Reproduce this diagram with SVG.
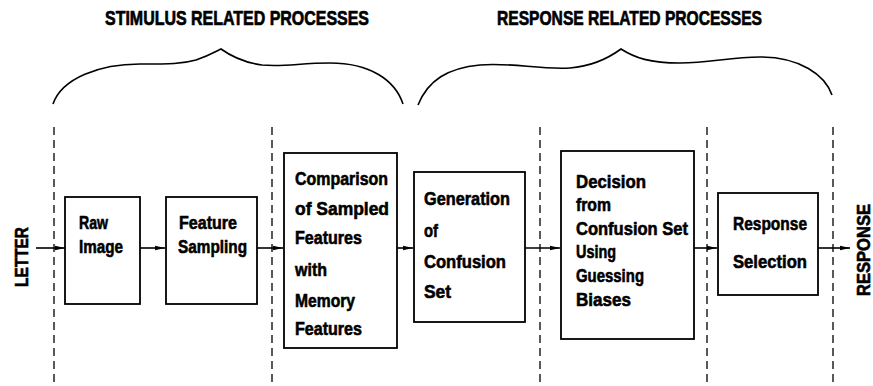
<svg xmlns="http://www.w3.org/2000/svg" width="873" height="386" viewBox="0 0 873 386">
<defs>
<style>
.bg{fill:#fff}
.box{fill:#fff;stroke:#000;stroke-width:1.8}
.div{fill:none;stroke:#000;stroke-width:1.3;stroke-dasharray:8 5}
.brace{fill:none;stroke:#000;stroke-width:1.6}
.conn{fill:none;stroke:#000;stroke-width:1.6}
.t{font-family:"Liberation Sans","DejaVu Sans",sans-serif;font-weight:bold;font-size:19px;fill:#000;stroke:#000;stroke-width:0.6}
.title{font-family:"Liberation Sans","DejaVu Sans",sans-serif;font-weight:bold;font-size:21px;fill:#000;stroke:#000;stroke-width:0.7}
</style>
<marker id="ah" viewBox="0 0 10 6" refX="10" refY="3" markerWidth="10" markerHeight="6" markerUnits="userSpaceOnUse" orient="auto">
<path d="M0,0.8 L10,3 L0,5.2 Z" fill="#000"/>
</marker>
</defs>
<rect class="bg" x="0" y="0" width="873" height="386"/>

<g id="titles">
<text class="title" x="105" y="25" textLength="264" lengthAdjust="spacingAndGlyphs">STIMULUS RELATED PROCESSES</text>
<text class="title" x="497" y="25" textLength="265" lengthAdjust="spacingAndGlyphs">RESPONSE RELATED PROCESSES</text>
</g>

<g id="braces">
<path class="brace" d="M53,104 C62,78 100,64 140,64 C170,64 182,64 196,60 C208,56 215,52 221,49 C228,54 240,62 262,65 C285,67 300,63 330,63 C370,63 395,80 403,104"/>
<path class="brace" d="M418,105 C428,80 448,68 480,65 C510,62 540,70 570,68 C595,66 610,57 621,49 C635,58 650,63 680,63 C710,63 730,57 760,57 C800,57 825,75 832,95"/>
</g>

<g id="dividers">
<line class="div" x1="54" y1="127" x2="54" y2="386"/>
<line class="div" x1="272" y1="127" x2="272" y2="386"/>
<line class="div" x1="540" y1="127" x2="540" y2="386"/>
<line class="div" x1="707" y1="127" x2="707" y2="386"/>
<line class="div" x1="833" y1="127" x2="833" y2="386"/>
</g>

<g id="letter">
<text class="t" transform="translate(28,287) rotate(-90)" textLength="60" lengthAdjust="spacingAndGlyphs">LETTER</text>
</g>

<g id="raw-image">
<rect class="box" x="65" y="197" width="75" height="107"/>
<text class="t" x="79" y="229" textLength="29" lengthAdjust="spacingAndGlyphs">Raw</text>
<text class="t" x="79" y="253" textLength="44" lengthAdjust="spacingAndGlyphs">Image</text>
</g>

<g id="feature-sampling">
<rect class="box" x="166" y="197" width="91" height="107"/>
<text class="t" x="179" y="229" textLength="58" lengthAdjust="spacingAndGlyphs">Feature</text>
<text class="t" x="178" y="253" textLength="69" lengthAdjust="spacingAndGlyphs">Sampling</text>
</g>

<g id="comparison">
<rect class="box" x="284" y="153" width="113" height="195"/>
<text class="t" x="295" y="185" textLength="93" lengthAdjust="spacingAndGlyphs">Comparison</text>
<text class="t" x="295" y="215" textLength="94" lengthAdjust="spacingAndGlyphs">of  Sampled</text>
<text class="t" x="295" y="244" textLength="67" lengthAdjust="spacingAndGlyphs">Features</text>
<text class="t" x="295" y="276" textLength="32" lengthAdjust="spacingAndGlyphs">with</text>
<text class="t" x="295" y="307" textLength="60" lengthAdjust="spacingAndGlyphs">Memory</text>
<text class="t" x="295" y="335" textLength="67" lengthAdjust="spacingAndGlyphs">Features</text>
</g>

<g id="generation">
<rect class="box" x="414" y="172" width="111" height="150"/>
<text class="t" x="424" y="205" textLength="86" lengthAdjust="spacingAndGlyphs">Generation</text>
<text class="t" x="424" y="237" textLength="14" lengthAdjust="spacingAndGlyphs">of</text>
<text class="t" x="424" y="268" textLength="82" lengthAdjust="spacingAndGlyphs">Confusion</text>
<text class="t" x="424" y="298" textLength="27" lengthAdjust="spacingAndGlyphs">Set</text>
</g>

<g id="decision">
<rect class="box" x="561" y="151" width="133" height="188"/>
<text class="t" x="576" y="188" textLength="70" lengthAdjust="spacingAndGlyphs">Decision</text>
<text class="t" x="576" y="211" textLength="35" lengthAdjust="spacingAndGlyphs">from</text>
<text class="t" x="576" y="235" textLength="112" lengthAdjust="spacingAndGlyphs">Confusion Set</text>
<text class="t" x="576" y="258" textLength="40" lengthAdjust="spacingAndGlyphs">Using</text>
<text class="t" x="576" y="282" textLength="68" lengthAdjust="spacingAndGlyphs">Guessing</text>
<text class="t" x="576" y="306" textLength="55" lengthAdjust="spacingAndGlyphs">Biases</text>
</g>

<g id="response-selection">
<rect class="box" x="718" y="193" width="100" height="102"/>
<text class="t" x="733" y="230" textLength="74" lengthAdjust="spacingAndGlyphs">Response</text>
<text class="t" x="733" y="268" textLength="74" lengthAdjust="spacingAndGlyphs">Selection</text>
</g>

<g id="response">
<text class="t" transform="translate(870,296) rotate(-90)" textLength="92" lengthAdjust="spacingAndGlyphs">RESPONSE</text>
</g>

<g id="connectors">
<line class="conn" x1="36" y1="248" x2="65" y2="248" marker-end="url(#ah)"/>
<line class="conn" x1="140" y1="248" x2="165" y2="248" marker-end="url(#ah)"/>
<line class="conn" x1="257" y1="248" x2="283" y2="248" marker-end="url(#ah)"/>
<line class="conn" x1="397" y1="248" x2="413" y2="248" marker-end="url(#ah)"/>
<line class="conn" x1="525" y1="248" x2="560" y2="248" marker-end="url(#ah)"/>
<line class="conn" x1="694" y1="248" x2="717" y2="248" marker-end="url(#ah)"/>
<line class="conn" x1="818" y1="248" x2="850" y2="248" marker-end="url(#ah)"/>
</g>
</svg>
